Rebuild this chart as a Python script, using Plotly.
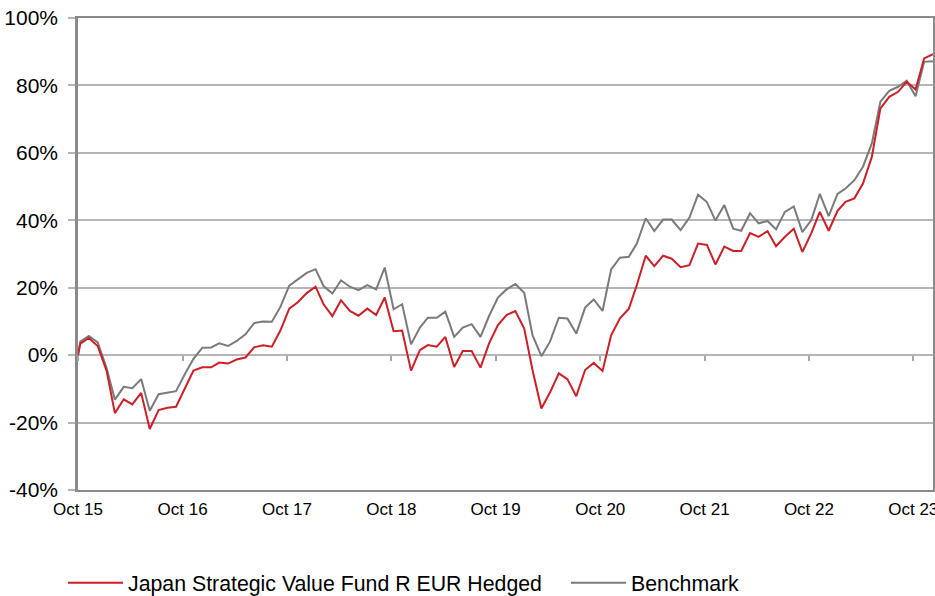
import pandas as pd
import plotly.graph_objects as go

# Cumulative performance since launch, in %, month-end values
launch_date = "2015-10-23"
month_ends = pd.date_range("2015-10-31", "2023-12-31", freq=pd.offsets.MonthEnd())
dates = [pd.Timestamp(launch_date)] + list(month_ends)

fund_name = "Japan Strategic Value Fund R EUR Hedged"
bench_name = "Benchmark"

fund = [
    0.0, 3.4,
    5.1, 2.7, -4.6, -17.2, -13.1, -14.6, -11.2, -21.9, -16.3, -15.6,
    -15.3, -10.0, -4.6, -3.6, -3.6, -2.2, -2.5, -1.3, -0.7, 2.3,
    2.9, 2.5, 7.3, 13.8, 15.7, 18.4, 20.3, 15.1, 11.6, 16.3,
    13.1, 11.7, 13.8, 11.9, 17.1, 7.1, 7.3, -4.6, 1.5, 3.0,
    2.5, 5.4, -3.5, 1.2, 1.2, -3.7, 3.5, 8.9, 11.9, 13.1,
    7.9, -4.4, -15.8, -11.1, -5.4, -7.1, -12.2, -4.4, -2.3, -4.7,
    5.9, 10.9, 13.8, 20.8, 29.5, 26.4, 29.5, 28.6, 26.1, 26.7,
    33.1, 32.7, 26.9, 32.2, 30.9, 30.9, 36.2, 35.1, 36.8, 32.3,
    35.1, 37.5, 30.6, 36.1, 42.5, 36.9, 42.8, 45.5, 46.5, 50.9,
    58.8, 73.2, 76.6, 78.1, 81.1, 78.8, 88.0, 89.3,
]

benchmark = [
    0.0, 4.0,
    5.7, 3.8, -3.8, -13.2, -9.4, -9.8, -7.1, -16.5, -11.6, -11.2,
    -10.7, -5.6, -1.1, 2.2, 2.3, 3.5, 2.7, 4.2, 6.2, 9.5,
    10.0, 9.9, 14.3, 20.6, 22.4, 24.4, 25.5, 20.5, 18.3, 22.2,
    20.3, 19.3, 20.8, 19.5, 26.0, 13.6, 15.1, 3.2, 8.2, 11.1,
    11.1, 12.9, 5.4, 8.2, 9.2, 5.4, 11.6, 17.1, 19.5, 21.1,
    18.5, 5.9, -0.3, 4.0, 11.1, 10.9, 6.4, 14.1, 16.5, 13.1,
    25.4, 28.9, 29.2, 33.1, 40.6, 36.8, 40.2, 40.2, 37.1, 40.8,
    47.6, 45.4, 39.9, 44.5, 37.5, 36.9, 42.1, 39.1, 39.8, 37.3,
    42.5, 44.1, 36.5, 40.0, 47.8, 41.2, 47.8, 49.4, 51.9, 55.9,
    62.8, 75.2, 78.4, 79.6, 81.4, 76.8, 87.0, 87.2,
]

y_ticks = [-40, -20, 0, 20, 40, 60, 80, 100]
y_tick_text = ["-40%", "-20%", "0%", "20%", "40%", "60%", "80%", "100%"]

RED = "#CC1F26"
GREY = "#7A7A7A"
GRID = "#B5B5B5"
FRAME = "#8A8A8A"
FONT = "Liberation Sans, Arial, sans-serif"

fig = go.Figure()
fig.add_trace(go.Scatter(
    x=dates, y=benchmark, name=bench_name, mode="lines",
    line=dict(color=GREY, width=2), legend="legend2",
))
fig.add_trace(go.Scatter(
    x=dates, y=fund, name=fund_name, mode="lines",
    line=dict(color=RED, width=2), legend="legend",
))

# helper trace on the secondary x-axis, which carries the tick marks on the 0% line
fig.add_trace(go.Scatter(
    x=[dates[0], dates[-1]], y=[0, 0], xaxis="x2", mode="lines",
    showlegend=False, hoverinfo="skip", line=dict(width=0),
))

legend_style = dict(
    orientation="h", xanchor="left",
    yref="container", y=13 / 596, yanchor="middle", xref="container",
    font=dict(size=21.3, family=FONT), itemwidth=55,
    bgcolor="rgba(0,0,0,0)",
)

fig.update_layout(
    width=935, height=596,
    margin=dict(l=78, r=2, t=18, b=106, autoexpand=False),
    paper_bgcolor="white", plot_bgcolor="white",
    font=dict(family=FONT, color="black"),
    showlegend=True,
    legend=dict(legend_style, x=63 / 935),
    legend2=dict(legend_style, x=566 / 935),
    xaxis=dict(
        type="date",
        range=[launch_date, "2023-12-31"],
        tick0=launch_date, dtick="M12", tickformat="%b %y",
        showgrid=False, zeroline=False,
        showline=True, linecolor=FRAME, linewidth=2, mirror=True,
        ticks="", tickfont=dict(size=17),
        ticklabelstandoff=3, ticklabeloverflow="allow", automargin=False,
    ),
    xaxis2=dict(
        type="date", overlaying="x", anchor="free",
        range=[launch_date, "2023-12-31"],
        position=40 / 140, showgrid=False, zeroline=False, showline=False,
        tick0=launch_date, dtick="M12",
        ticks="outside", ticklen=5, tickcolor="#A6A6A6", tickwidth=1.5,
        showticklabels=False,
    ),
    yaxis=dict(
        range=[-40, 100], tickmode="array", tickvals=y_ticks, ticktext=y_tick_text,
        showgrid=True, gridcolor=GRID, gridwidth=1.5,
        zeroline=False,
        showline=True, linecolor=FRAME, linewidth=2.5, mirror=True,
        ticks="outside", ticklen=7, tickcolor=GRID, tickwidth=1.5,
        tickfont=dict(size=21),
        ticklabelstandoff=6, automargin=False,
    ),
)

fig.write_html("out.html")
